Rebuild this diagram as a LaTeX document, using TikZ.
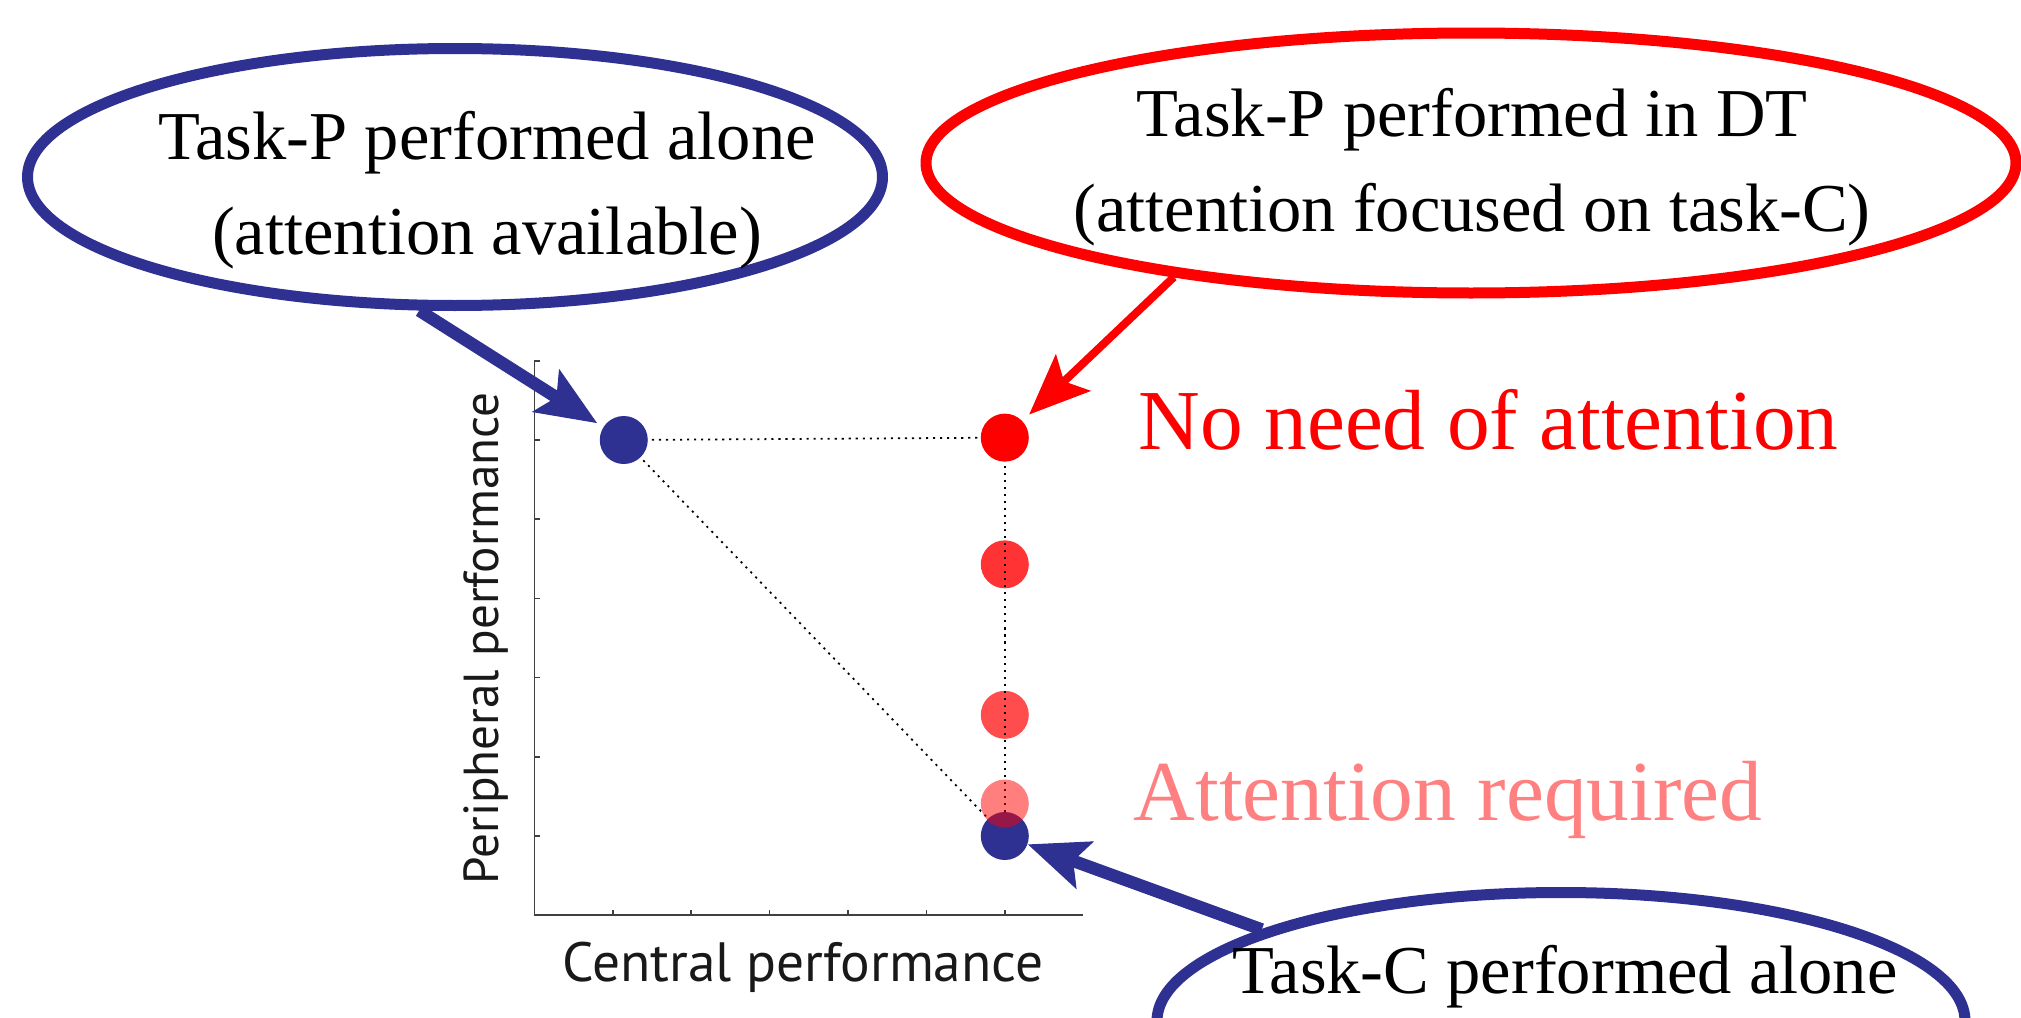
\documentclass[tikz,border=0pt]{standalone}
\usepackage{fontspec}
\setmainfont{Liberation Serif}
\setsansfont{PT Sans}
\usepackage{xcolor}
\usepackage{tikz}
\usetikzlibrary{shapes.geometric,arrows.meta}

\definecolor{taskblue}{HTML}{2E3192}
\definecolor{attnred}{HTML}{FF8080}

\begin{document}
\begin{tikzpicture}[
    x=0.1mm, y=-0.1mm,
    callout/.style={
        ellipse,
        draw,
        line width=1.1mm,
        inner sep=0pt
    },
    calltext/.style={
        align=center,
        inner sep=0pt,
        font=\fontsize{19.5pt}{27pt}\selectfont
    },
    biglabel/.style={
        anchor=base west,
        inner sep=0pt,
        font=\fontsize{24.3pt}{28pt}\selectfont
    },
    axislabel/.style={
        anchor=base,
        inner sep=0pt,
        text=black!90,
        font=\sffamily\fontsize{15.75pt}{18pt}\selectfont
    },
    dot/.style={
        circle,
        inner sep=0pt,
        minimum size=4.8mm
    },
    guide/.style={
        line width=0.5pt,
        dash pattern=on 0.6pt off 1.4pt
    },
    axis/.style={
        line width=0.45pt,
        draw=black!75
    },
    arrow/.style={
        -{Stealth[length=6.1mm, width=5.1mm, inset=1.3mm, line width=0.3pt]},
        line width=1.25mm
    }
]
\useasboundingbox (0,0) rectangle (2021,1018);

% the plot
\begin{scope}[shift={(534.4,915.2)}, x=7.84mm, y=7.92mm]
    \draw[axis] (0,7) -- (0,0) -- (7,0);
    \foreach \t in {1,...,6}
        \draw[axis] (\t,0) -- ++(0,0.07);
    \foreach \t in {1,...,7}
        \draw[axis] (0,\t) -- ++(0.07,0);

    \node[dot, fill=red!80] (pDT2) at (6,4.43) {};
    \node[dot, fill=red!70] (pDT3) at (6,2.53) {};

    \coordinate (pAloneC) at (1.14,6);
    \coordinate (pDTC) at (6,6.03);
    \coordinate (cAloneC) at (6,1);
    \draw[guide] (pAloneC) -- (pDTC);
    \draw[guide] (pDTC) -- (cAloneC);
    \draw[guide] (pAloneC) -- (cAloneC);

    \node[dot, fill=taskblue] (pAlone) at (pAloneC) {};
    \node[dot, fill=red] (pDT) at (pDTC) {};
    \node[dot, fill=taskblue] (cAlone) at (cAloneC) {};
    \node[dot, fill=red, fill opacity=0.5] (pDT4) at (6,1.41) {};
\end{scope}

\node[axislabel, rotate=90, font=\sffamily\fontsize{14pt}{16pt}\selectfont] (ylab) at (498,638.5) {Peripheral performance};
\node[axislabel] (xlab) at (803,981) {Central performance};

\node[biglabel, text=red] (noNeed) at (1138,449) {No need of attention};
\node[biglabel, text=attnred] (attReq) at (1133,820) {Attention required};

% callouts
\node[callout, draw=taskblue, minimum width=8.55cm, minimum height=2.57cm] (aloneP) at (455,177) {};
\node[calltext] (alonePtxt) at (487,190) {Task-P performed alone\\(attention available)};

\node[callout, draw=red, minimum width=10.9cm, minimum height=2.6cm] (dtP) at (1471,163) {};
\node[calltext] (dtPtxt) at (1472,167) {Task-P performed in DT\\(attention focused on task-C)};

\node[callout, draw=taskblue, minimum width=8.08cm, minimum height=2.57cm] (aloneC) at (1561,1021) {};
\node[calltext] (aloneCtxt) at (1565,977) {Task-C performed alone};

\draw[arrow, taskblue, shorten >=0.7mm] (aloneP.255) -- (pAlone);
\draw[arrow, red, line width=0.8mm, shorten >=0.9mm] (dtP.201) -- (pDT);
\draw[arrow, taskblue] (aloneC.163) -- (cAlone);

\end{tikzpicture}
\end{document}
